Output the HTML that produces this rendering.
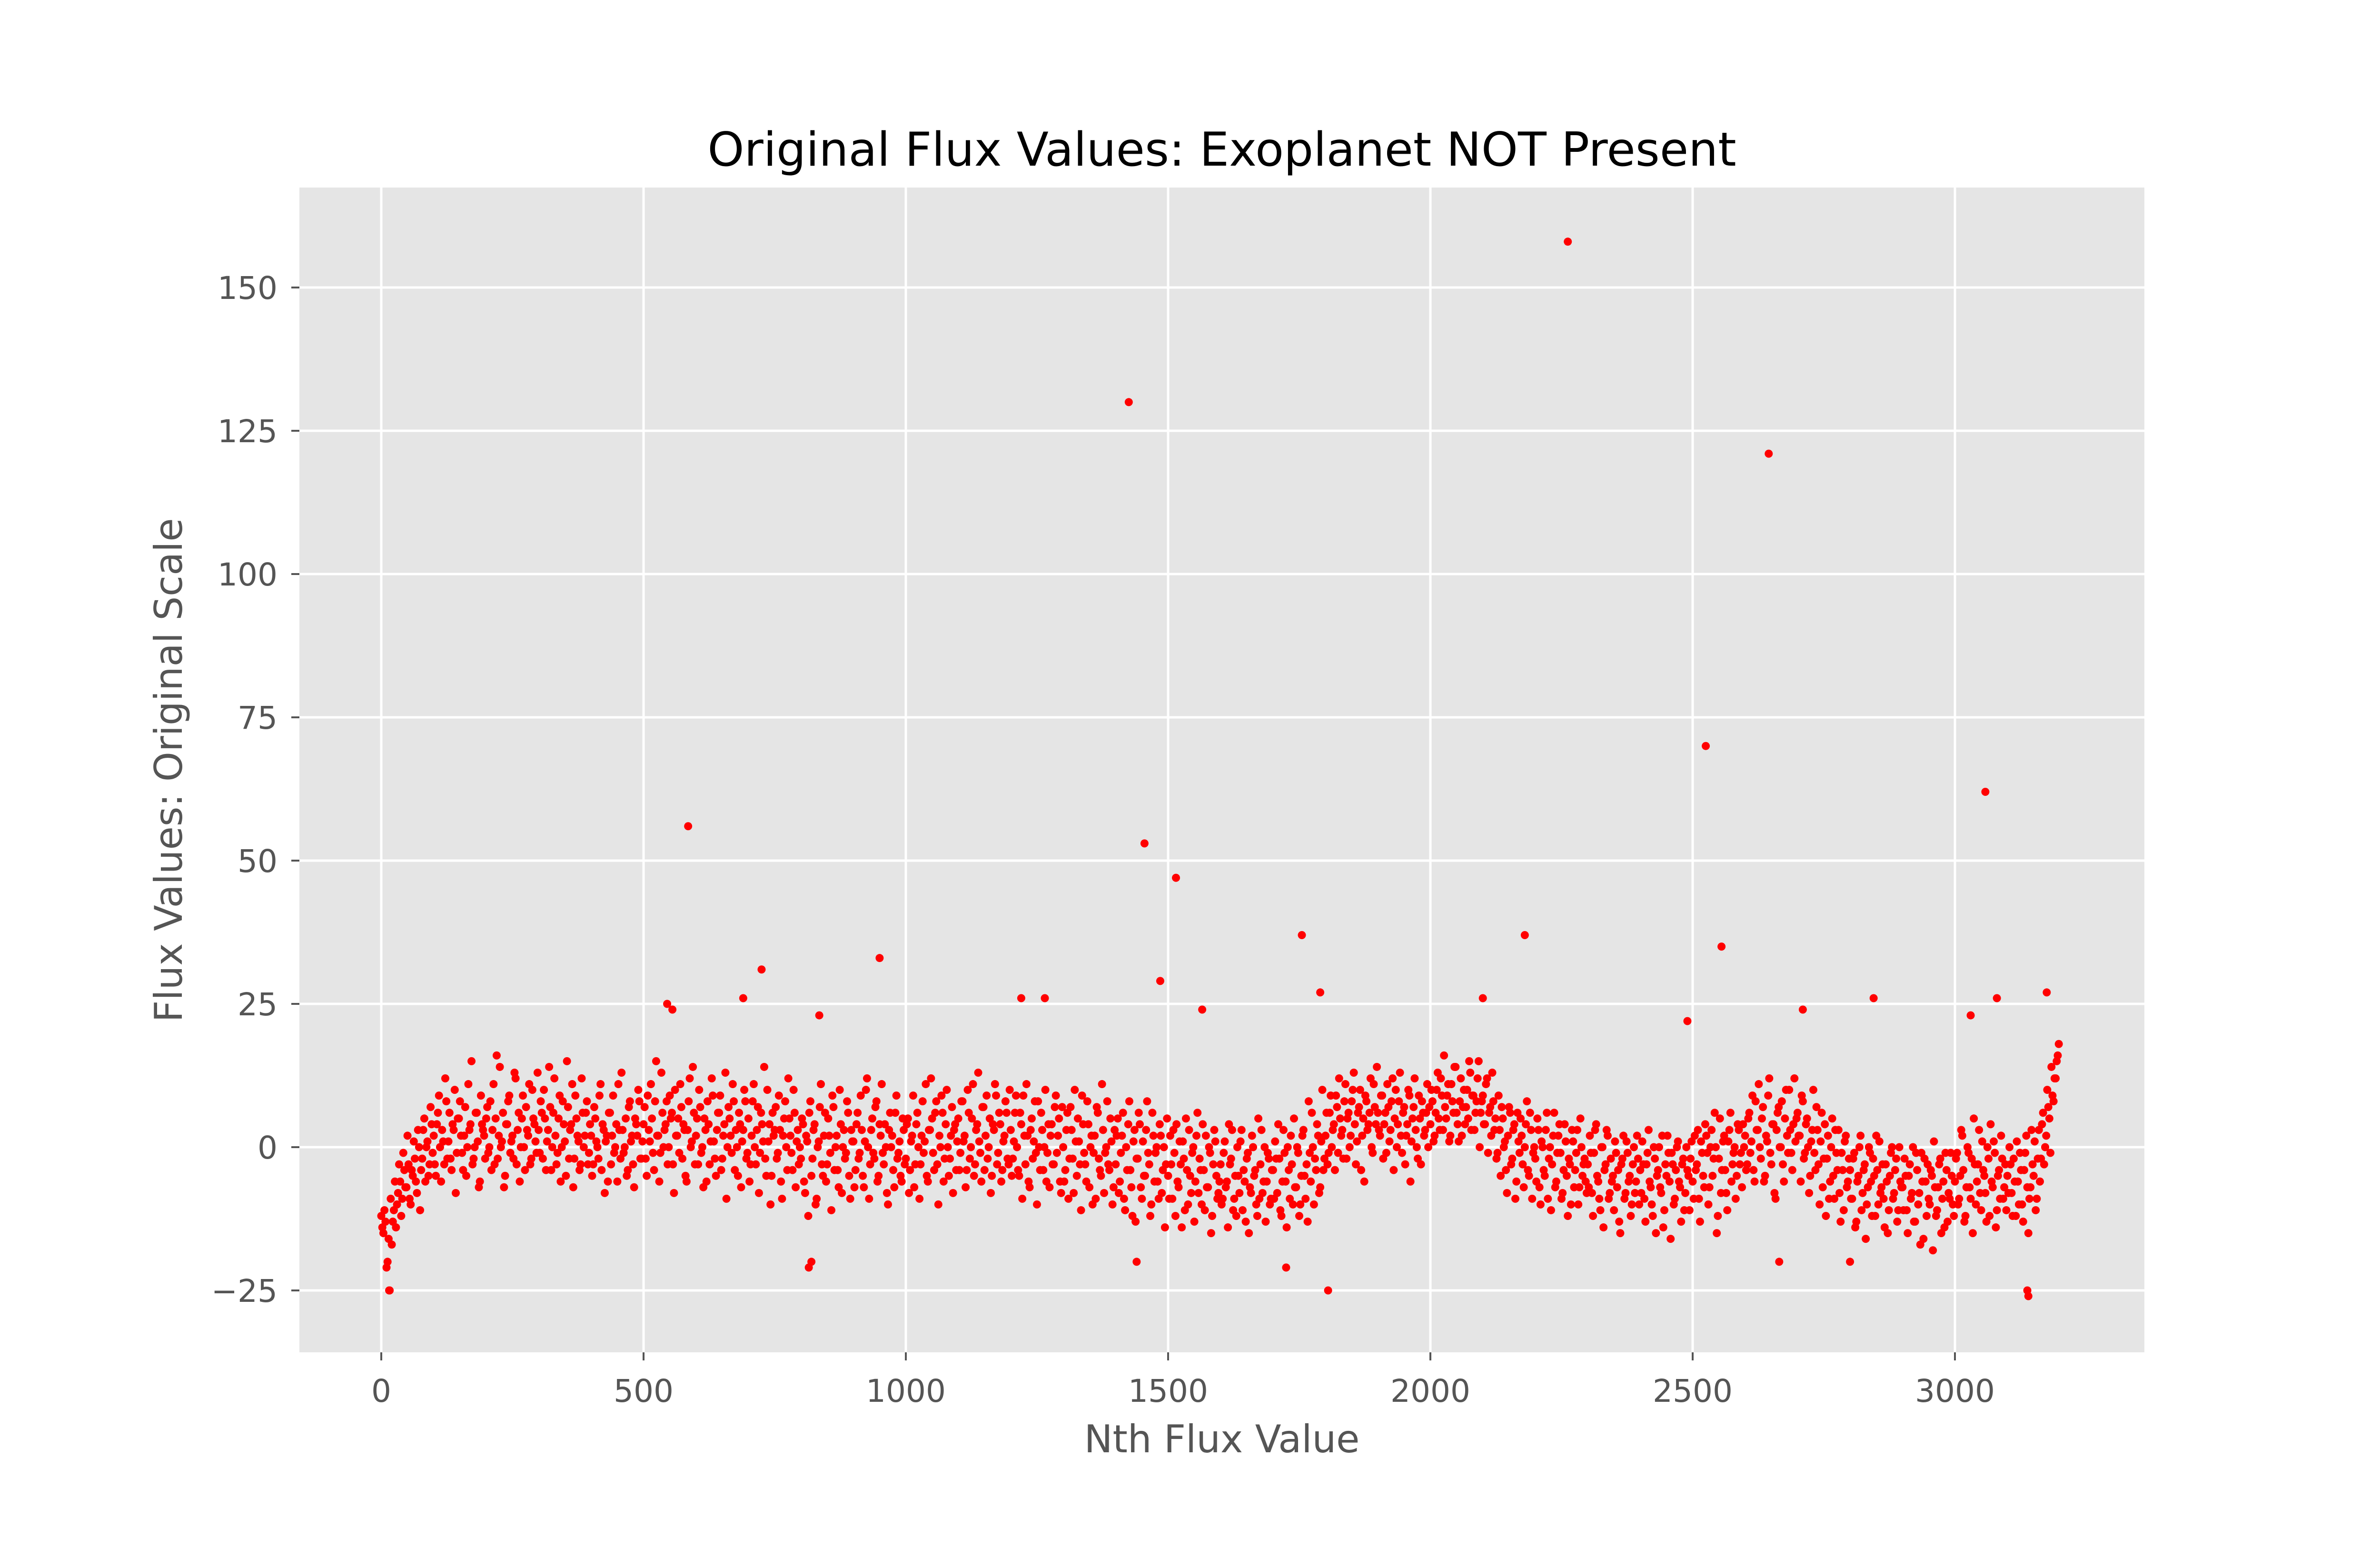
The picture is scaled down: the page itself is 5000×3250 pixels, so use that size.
<!DOCTYPE html>
<html><head><meta charset="utf-8"><style>
html,body{margin:0;padding:0;background:#fff;}
svg{display:block;}
text{font-family:"DejaVu Sans","Liberation Sans",sans-serif;}
</style></head><body>
<svg id="chart" width="5000" height="3250" viewBox="0 0 5000 3250" xmlns="http://www.w3.org/2000/svg">
<rect x="0" y="0" width="5000" height="3250" fill="#fff"/>
<rect x="629" y="394" width="3876" height="2447" fill="#e5e5e5"/>
<g id="grid"></g>
<g id="ticks"></g>
<g id="points"></g>
<text x="2567" y="348" font-size="98" text-anchor="middle" fill="#000">Original Flux Values: Exoplanet NOT Present</text>
<text x="2567" y="3051" font-size="80" text-anchor="middle" fill="#555">Nth Flux Value</text>
<text x="0" y="0" font-size="80" text-anchor="middle" fill="#555" transform="translate(382,1618) rotate(-90)">Flux Values: Original Scale</text>
</svg>
<script>
const xTicks = [0, 500, 1000, 1500, 2000, 2500, 3000];
const yTicks = [-25, 0, 25, 50, 75, 100, 125, 150];
const step = 4;
const flux = [
-12,-15,-13,-20,-25,-17,-11,-14,-8,-6,-9,-4,-7,-3,-10,-5,-2,-8,0,-4,3,-6,1,-3,4,
2,-5,6,0,3,-3,8,1,-2,4,10,-1,5,2,-4,7,0,3,15,-2,6,1,-6,4,2,
5,-1,8,3,-3,16,2,0,6,-5,4,9,1,-2,12,3,-6,5,0,7,2,-3,10,4,-1,
3,8,-2,5,1,14,-4,6,2,-1,9,0,4,-5,7,3,11,-2,5,1,-3,6,2,8,-1,
2,-3,5,0,9,-4,3,1,-6,6,2,-1,4,11,-2,3,0,-5,7,1,-3,5,2,8,-2,
4,-2,9,1,5,-4,15,2,-1,6,3,8,0,5,-3,10,2,-1,7,4,-5,3,12,1,6,
2,-3,7,0,5,-6,4,1,9,-2,3,6,-4,2,13,0,5,-1,8,3,-5,4,1,10,-2,
5,-3,8,0,3,-8,6,1,-2,10,4,-5,2,7,-1,3,-9,5,0,12,2,-4,6,1,-3,
-2,4,-8,1,6,-5,3,-10,0,7,-3,2,-6,5,-1,9,-4,2,-7,4,0,-2,8,-5,3,
1,-4,6,-1,3,-7,10,0,-3,5,-2,8,-5,2,-1,4,-8,3,0,-4,6,-2,1,-6,3,
-2,5,-4,2,-7,4,0,-3,8,1,-5,3,12,-1,6,-3,2,9,-6,4,0,-2,7,3,-4,
5,-1,8,2,-4,6,0,11,-3,4,1,-6,7,2,-2,5,-5,3,9,-1,4,-4,2,6,-3,
3,-2,6,0,-5,4,9,-3,2,-7,5,1,-1,8,-4,3,0,-6,4,2,-3,7,-1,5,-8,
0,-4,6,-2,3,-8,1,5,-3,9,-1,-6,4,0,-10,2,7,-2,-5,3,-1,8,-4,1,-7,
-3,5,-6,2,-9,0,4,-4,-12,3,-2,6,-7,1,-5,8,-3,-10,2,-1,-6,4,-8,0,-3,
-5,2,-9,-1,4,-7,-3,1,-11,-4,3,-8,0,-6,6,-2,-10,-4,2,-7,-1,-12,3,-5,-8,
-3,-9,1,-6,4,-2,-11,-5,0,-8,3,-4,-13,-1,-7,2,-5,-10,5,-3,-8,0,-6,-2,-9,
-4,1,-8,-2,-12,3,-6,0,-9,-3,5,-7,-1,-10,2,-5,-3,8,-6,0,-2,4,-8,1,-4,
2,-3,6,0,4,9,-1,5,3,8,-2,6,2,10,4,1,7,-4,5,9,3,6,0,11,4,
6,2,9,4,-1,7,3,12,5,0,8,2,6,-3,4,9,1,7,3,-2,5,8,2,6,0,
4,8,2,10,5,12,3,7,9,1,11,6,14,4,8,2,10,7,5,13,9,3,8,15,6,
9,4,12,6,2,8,5,-1,3,7,0,-4,2,6,-2,4,-6,1,5,-3,0,8,-5,3,-1,
-2,5,-7,1,-4,3,-9,0,-3,6,-6,2,-1,-8,4,-5,-2,-10,1,-4,3,-7,0,-3,-6,
-3,2,-8,-1,4,-6,-11,0,-4,3,-9,-2,-5,1,-7,-13,-3,2,-8,-1,-5,-10,0,-6,-2,
-4,1,-9,-3,3,-7,-12,-2,-5,0,-8,-14,-3,2,-6,-1,-10,-4,1,-7,-3,-11,0,-5,-2,
-6,2,-3,-9,1,-5,4,-1,-7,3,-2,0,-12,5,-4,2,-8,1,6,-3,0,-5,3,-1,4,
2,-3,6,1,-4,8,3,0,5,-6,2,9,-1,4,-8,3,7,0,-3,5,2,10,-1,4,1,
6,2,9,-2,4,0,-5,3,-1,7,-3,1,-7,4,-2,-9,0,-5,3,-4,-8,-1,-11,2,-6,
-4,-9,-1,-13,-5,2,-8,-3,-10,0,-6,-2,-12,-4,1,-7,-9,-3,-15,-5,0,-8,-2,-11,-6,
-7,-2,-11,-5,-9,0,-13,-4,-8,-1,-16,-6,-3,-10,-5,1,-12,-7,-2,-9,-14,-4,-8,-1,-10,
-6,-1,-9,3,-4,-12,0,-7,-2,5,-10,-3,-8,1,-5,-13,-2,4,-7,-1,-11,-4,2,-9,-3,
-5,0,-8,-2,-12,-6,-1,-10,-4,2,-15,-7,-3,1,-9,3,-2,6,0,10,5,14,8,12,16
];
const fluxB = [
-14,-11,-21,-16,-9,-13,-6,-10,-3,-12,-1,-7,2,-9,-4,1,-6,3,-11,-2,5,0,-5,7,-1,
-3,4,9,-6,1,12,-2,6,-4,3,-8,5,8,-1,2,-5,11,4,-3,0,6,-7,9,3,-2,
7,0,-4,11,5,-2,14,1,-7,4,8,-1,2,13,-3,6,0,9,-4,3,11,-2,5,1,13,
-1,6,10,-4,3,7,0,12,-3,5,-6,8,1,15,-2,4,-7,9,2,-4,12,0,6,-3,4,
-5,7,1,-2,11,4,-8,2,6,-3,9,0,-6,3,13,-1,5,-4,8,2,-7,4,10,-2,1,
7,-5,3,11,-1,8,2,-6,13,0,4,-3,9,6,-8,2,5,11,-2,3,-6,8,0,14,-3,
5,10,-1,-7,3,8,-3,12,1,-5,6,9,-2,4,-9,7,2,11,-4,0,6,-7,3,8,-1,
-6,2,11,-3,7,-1,4,14,-5,1,-10,6,3,-2,9,-6,2,8,-4,5,-1,10,-7,3,0,
5,-6,2,-12,8,-2,4,-9,1,11,-5,6,-3,2,-11,7,0,-4,10,-8,3,-1,6,-9,1,
-7,4,-2,9,-5,1,12,-9,3,-1,7,-6,4,11,-3,0,-10,6,2,-7,9,-1,-5,5,-3,
4,-8,1,9,-3,6,-9,2,-1,11,-6,3,5,-4,8,-10,0,6,-2,10,-5,2,-8,4,1,
-4,8,1,-7,10,-2,5,-5,3,13,-1,7,-4,9,0,-8,4,11,-3,6,-6,1,8,-2,10,
-5,1,9,-4,6,-9,2,11,-6,3,-2,8,-10,0,6,-4,10,-1,-7,4,-3,9,2,-6,7,
-6,3,-9,7,-2,10,-5,1,-11,4,-3,8,-7,2,-1,-9,6,-4,11,-8,0,-3,5,-10,3,
2,-8,-1,6,-11,-4,8,-7,1,-13,-2,4,-9,-5,3,-1,-12,6,-6,0,-9,2,-4,-14,5,
-9,-3,3,-12,-6,1,-14,-2,5,-10,-5,-1,-13,2,-8,-4,4,-11,-7,0,-15,-3,1,-9,-6,
-10,-1,-7,-14,-3,3,-9,-12,-5,1,-11,-6,-2,-15,-8,0,-4,-12,-9,3,-6,-13,-1,-10,-4,
-9,-2,4,-11,-6,-1,-14,-4,2,-10,-7,0,-12,-5,3,-9,-13,-1,6,-10,-4,2,-7,10,-2,
6,-1,9,3,-4,7,12,2,-2,11,5,0,8,13,-3,6,10,2,-6,8,4,12,-1,7,14,
3,9,-2,6,11,1,8,-4,10,4,13,-1,7,2,10,-6,5,12,0,9,-3,6,3,11,7,
10,1,6,13,3,9,16,5,11,2,8,14,6,1,12,7,4,10,15,3,9,6,12,0,8,
4,11,-1,7,13,3,-2,9,-5,5,1,-8,7,-3,3,-9,6,-1,2,-7,4,-4,6,-9,0,
-6,3,-10,0,-5,6,-2,-11,2,-7,-1,4,-9,-4,1,-12,-3,3,-7,-1,-10,5,-5,-2,-8,
-7,-1,-12,3,-5,-9,0,-14,-3,2,-8,-6,-11,-1,-4,-15,-2,-9,1,-6,-12,-3,-8,2,-10,
-8,-3,-13,-1,-6,-10,0,-15,-4,-7,2,-11,-5,-1,-16,-3,-9,0,-6,-13,-2,-8,-4,-11,1,
-9,-4,3,-13,-1,-7,2,-10,0,-5,6,-15,-2,-8,1,-4,-11,3,-6,-1,-9,4,-3,-7,0,
-4,5,-1,9,-6,3,11,-2,7,-5,1,12,-3,4,-9,6,0,8,-6,10,-1,3,-4,12,5,
2,-6,8,-1,5,-8,1,10,-4,3,-10,6,-2,-12,2,-6,5,-9,-1,3,-13,-4,1,-7,-2,
-9,-2,-14,-6,0,-11,-4,-16,-7,-1,-12,-5,2,-10,-8,-3,-14,-6,-11,-1,-9,-4,-13,0,-7,
-11,-5,-15,-3,-8,-13,-1,-10,-17,-6,-2,-12,-9,-4,-18,-7,-11,-3,-15,-6,-1,-13,-9,-5,-12,
-2,-10,-5,2,-13,-7,-1,-9,-15,-3,-6,3,-11,-4,-8,0,-12,-6,1,-14,-5,-9,-2,-7,-11,
-8,-3,-12,-6,1,-10,-4,-13,-1,-7,-9,3,-5,-11,-2,-6,4,-3,2,7,-1,9,12,15,18
];
const outlierIdx = [15,585,545,555,690,725,815,835,950,1220,1265,1425,1455,1440,1485,1515,1565,1755,1790,1805,2180,2100,2262,2525,2645,2555,2665,2710,2845,3030,3058,3080,3140,3138,3175,2490,2800,820,1725];
const outlierVal = [-25,56,25,24,26,31,-21,23,33,26,26,130,53,-20,29,47,24,37,27,-25,37,26,158,70,121,35,-20,24,26,23,62,26,-26,-25,27,22,-20,-20,-21];

const NS = "http://www.w3.org/2000/svg";
const X0 = 801, XS = 551/500, Y0 = 2410, YS = 12.04;
const PL = 629, PR = 4505, PT = 394, PB = 2841;
function sx(v){ return X0 + v*XS; }
function sy(v){ return Y0 - v*YS; }
function mk(tag, attrs){ const e = document.createElementNS(NS, tag); for (const k in attrs) e.setAttribute(k, attrs[k]); return e; }

const grid = document.getElementById('grid');
const ticks = document.getElementById('ticks');
xTicks.forEach(t => {
  const gl = mk('line', {x1: sx(t), x2: sx(t), y1: PT, y2: PB, stroke: '#fff', 'stroke-width': 5});
  
  
  grid.appendChild(gl);
  const tm = mk('line', {x1: sx(t), x2: sx(t), y1: PB, y2: PB + 17, stroke: '#555', 'stroke-width': 4});
  
  
  ticks.appendChild(tm);
  const tl = mk('text', {x: sx(t), y: 2945, 'font-size': 66, 'text-anchor': 'middle', fill: '#555'});
  
  
  tl.textContent = String(t);
  ticks.appendChild(tl);
});
yTicks.forEach(t => {
  const gl = mk('line', {x1: PL, x2: PR, y1: sy(t), y2: sy(t), stroke: '#fff', 'stroke-width': 5});
  
  
  grid.appendChild(gl);
  const tm = mk('line', {x1: PL - 17, x2: PL, y1: sy(t), y2: sy(t), stroke: '#555', 'stroke-width': 4});
  
  
  ticks.appendChild(tm);
  const tl = mk('text', {x: 583, y: sy(t) + 24, 'font-size': 66, 'text-anchor': 'end', fill: '#555'});
  
  
  tl.textContent = t < 0 ? '\u2212' + Math.abs(t) : String(t);
  ticks.appendChild(tl);
});

const pts = document.getElementById('points');
flux.forEach((v, i) => {
  const c = mk('circle', {cx: sx(i*step), cy: sy(v), r: 8.5, fill: '#ff0000'});
  
  
  pts.appendChild(c);
});
fluxB.forEach((v, i) => {
  const c = mk('circle', {cx: sx(i*step + 2), cy: sy(v), r: 8.5, fill: '#ff0000'});
  
  
  pts.appendChild(c);
});
outlierIdx.forEach((ix, k) => {
  const c = mk('circle', {cx: sx(ix), cy: sy(outlierVal[k]), r: 8.5, fill: '#ff0000'});
  
  
  pts.appendChild(c);
});
</script>
</body></html>
